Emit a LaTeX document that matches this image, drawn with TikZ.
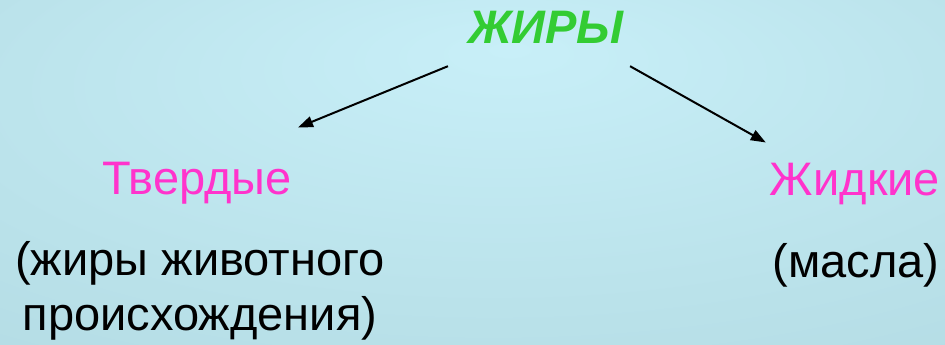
\documentclass[tikz,border=0pt]{standalone}
\usepackage{fontspec}
\setmainfont{Liberation Sans}
\usepackage{tikz}
\usetikzlibrary{arrows.meta}

\definecolor{fatgreen}{HTML}{33CC33}
\definecolor{kindpink}{HTML}{FF33CC}
\definecolor{bgin}{HTML}{C8EFF8}
\definecolor{bgmid}{HTML}{BAE2EA}
\definecolor{bgout}{HTML}{A8D0DA}

\pgfdeclareradialshading{slidebg}{\pgfpoint{2bp}{18bp}}{color(0bp)=(bgin); color(30bp)=(bgmid); color(72bp)=(bgout)}

\begin{document}
\begin{tikzpicture}[
            x=1pt, y=-1pt,
            every node/.style={inner sep=0pt, font=\fontsize{47}{55}\selectfont}, % all text same size
            title/.style={text=fatgreen, font=\fontsize{47}{55}\selectfont\bfseries\itshape},
            kind/.style={text=kindpink},
            note/.style={text=black, align=center},
            arr/.style={-{Triangle[length=15pt,width=11pt]}, line width=2pt}
            ]

        % background of the slide
        \shade[shading=slidebg] (0,0) rectangle (945,345);
        \useasboundingbox (0,0) rectangle (945,345);

        % title and the two kinds
        \node[title, anchor=base] (fats) at (546,44) {ЖИРЫ};
        \node[kind, anchor=base] (solid) at (197,194) {Твердые};
        \node[kind, anchor=base] (liquid) at (855,195) {Жидкие};

        % explanations below
        \node[note, anchor=north] (animal) at (200,241) {(жиры животного\\происхождения)};
        \node[note, anchor=base] (oils) at (856,277) {(масла)};

        % arrows from the title
        \draw[arr] ([xshift=-20pt,yshift=-22pt]fats.south west) -- ([xshift=6pt,yshift=34pt]solid.north east);
        \draw[arr] ([xshift=6pt,yshift=-22pt]fats.south east) -- ([xshift=-4pt,yshift=20pt]liquid.north west);

\end{tikzpicture}
\end{document}
